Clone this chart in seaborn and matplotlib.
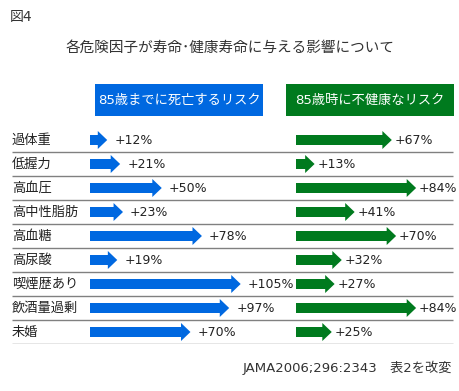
import matplotlib.pyplot as plt
import seaborn as sns
import pandas as pd
import numpy as np
from matplotlib.patches import Polygon, Rectangle

# データ（JAMA2006;296:2343 表2より）
factors = ['過体重', '低握力', '高血圧', '高中性脂肪', '高血糖', '高尿酸', '喫煙歴あり', '飲酒量過剰', '未婚']
death_risk = [12, 21, 50, 23, 78, 19, 105, 97, 70]       # 85歳までに死亡するリスク (%)
unhealthy_risk = [67, 13, 84, 41, 70, 32, 27, 84, 25]    # 85歳時に不健康なリスク (%)
headers = ['85歳までに死亡するリスク', '85歳時に不健康なリスク']

blue = '#0068E0'
green = '#007A1E'
text_color = '#222222'

sns.set_style('white')
plt.rcParams['font.family'] = ['Noto Sans CJK JP', 'DejaVu Sans']
latin_first = ['DejaVu Sans', 'Noto Sans CJK JP']  # 数字は幅の広いフォントで

W, H = 460, 391
fig = plt.figure(figsize=(W / 100, H / 100), dpi=100)


def fx(px):
    return px / W


def fy(py):
    return 1 - py / H


# 行の領域
row_top, row_h = 128, 24
n = len(factors)
bottom = fy(row_top + n * row_h)
height = n * row_h / H

# 背景（項目名と区切り線）
bg = fig.add_axes([0, bottom, 1, height])
bg.set_xlim(0, W)
bg.set_ylim(n - 0.5, -0.5)
bg.axis('off')
for i, name in enumerate(factors):
    bg.text(12, i, name, va='center', ha='left', fontsize=9.5, color=text_color)
bg.hlines(np.arange(n) + 0.5, 12, 453, color='#808080', lw=1)


def panel(left_px, right_px, scale, values, color, gap):
    ax = fig.add_axes([fx(left_px), bottom, fx(right_px - left_px), height])
    head_len = 9 / scale
    df = pd.DataFrame({'factor': factors, 'value': values})
    df['shaft'] = df['value'] - head_len
    sns.barplot(data=df, x='shaft', y='factor', orient='h', color=color,
                width=0.4, saturation=1, linewidth=0, ax=ax)
    ax.set_xlim(0, (right_px - left_px) / scale)
    ax.set_ylim(n - 0.5, -0.5)
    for i, v in enumerate(values):
        ax.add_patch(Polygon([[v - head_len - 0.3, i - 0.375], [v, i], [v - head_len - 0.3, i + 0.375]],
                             closed=True, facecolor=color, lw=0))
        ax.text(v + gap / scale, i, f'+{v}%', va='center', ha='left', fontsize=9,
                color=text_color, family=latin_first)
    ax.axis('off')


panel(90, 290, 1.435, death_risk, blue, 7)
panel(296, 458, 1.43, unhealthy_risk, green, 3)

# 見出しボックス
for (x0, x1), label, color in zip([(95, 263), (286, 454)], headers, [blue, green]):
    fig.patches.append(Rectangle((fx(x0), fy(116)), fx(x1 - x0), 32 / H,
                                 transform=fig.transFigure, facecolor=color, lw=0))
    fig.text(fx((x0 + x1) / 2), fy(100), label, ha='center', va='center',
             fontsize=9.5, color='white', family=latin_first)

fig.text(fx(10), fy(17), '図4', ha='left', va='center', fontsize=10, color='#333333',
         family=latin_first)
fig.text(fx(230), fy(48), '各危険因子が寿命･健康寿命に与える影響について',
         ha='center', va='center', fontsize=10.5, color='#333333')
fig.text(fx(452), fy(368), 'JAMA2006;296:2343　表2を改変', ha='right', va='center',
         fontsize=9.5, color='#333333', family=latin_first)

fig.savefig('out.png', dpi=100, facecolor='white')
